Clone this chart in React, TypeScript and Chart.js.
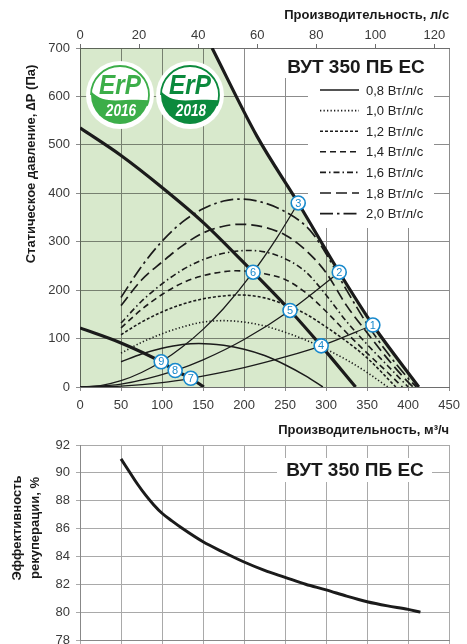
import React, { useEffect, useRef } from 'react';
import { Chart, registerables } from 'chart.js';

Chart.register(...registerables);

const FONT = "'Liberation Sans', Arial, Helvetica, sans-serif";

// ---------- tick labels ----------
const M3H_TICKS = [0, 50, 100, 150, 200, 250, 300, 350, 400, 450];
const LS_TICKS = [0, 20, 40, 60, 80, 100, 120];
const PA_TICKS = [0, 100, 200, 300, 400, 500, 600, 700];
const EFF_TICKS = [78, 80, 82, 84, 86, 88, 90, 92];

// ---------- texts ----------
const MODEL = 'ВУТ 350 ПБ ЕС';
const X_TITLE_BOTTOM = 'Производительность, м³/ч';
const X_TITLE_TOP = 'Производительность, л/с';
const Y_TITLE_TOP = 'Статическое давление, ∆P (Па)';
const Y_TITLE_BOTTOM = ['Эффективность', 'рекуперации, %'];
const SFP_LABELS = ['0,8 Вт/л/с', '1,0 Вт/л/с', '1,2 Вт/л/с', '1,4 Вт/л/с', '1,6 Вт/л/с', '1,8 Вт/л/с', '2,0 Вт/л/с'];
const LOGO_YEARS = ['2016', '2018'];

// ---------- fan curves (m³/h, Pa) ----------
const OUTER_X = [161, 216, 266, 316, 357, 413];
const OUTER_Y = [700, 517, 380, 237, 128, 0];
const MID_X = [0, 50, 100, 150, 211, 256, 294, 336];
const MID_Y = [535, 478, 412, 340, 237, 158, 85, 0];
const LOW_X = [0, 50, 99, 116, 135, 151];
const LOW_Y = [122, 91, 52, 34, 18, 0];

// ---------- system curves ----------
const SYS_A_X = [0, 25, 50, 75, 99, 125, 150, 175, 211, 240, 266];
const SYS_A_Y = [0, 3, 13, 30, 52, 83, 119, 162, 237, 308, 380];
const SYS_B_X = [0, 50, 116, 150, 200, 256, 316];
const SYS_B_Y = [0, 6, 34, 56, 98, 158, 237];
const SYS_C_X = [0, 50, 100, 135, 200, 250, 294, 357];
const SYS_C_Y = [0, 2, 9, 18, 40, 62, 85, 128];

// ---------- SFP iso-lines ----------
const SFP08_X = [50, 75, 100, 125, 145, 175, 200, 225, 250, 275, 296];
const SFP08_Y = [52, 68, 80, 88, 90, 86, 78, 65, 46, 23, 0];
const SFP10_X = [50, 75, 100, 125, 150, 175, 200, 225, 250, 275, 300, 325, 350, 375];
const SFP10_Y = [70, 92, 110, 124, 134, 137, 134, 126, 113, 97, 78, 56, 30, 0];
const SFP12_X = [50, 75, 100, 125, 150, 175, 195, 225, 250, 275, 300, 325, 350, 385];
const SFP12_Y = [108, 134, 155, 171, 182, 188, 190, 184, 170, 151, 124, 94, 60, 0];
const SFP14_X = [50, 75, 100, 125, 150, 175, 190, 211, 225, 250, 275, 300, 325, 350, 375, 393];
const SFP14_Y = [122, 160, 191, 215, 230, 238, 240, 238, 234, 222, 195, 156, 112, 70, 30, 0];
const SFP16_X = [50, 75, 100, 125, 150, 175, 205, 225, 250, 275, 300, 325, 350, 375, 400];
const SFP16_Y = [132, 177, 213, 242, 263, 276, 282, 279, 265, 238, 190, 135, 88, 44, 0];
const SFP18_X = [50, 75, 100, 125, 150, 175, 195, 225, 250, 265, 285, 300, 325, 350, 375, 400, 406];
const SFP18_Y = [168, 221, 258, 292, 318, 332, 336, 330, 314, 297, 266, 236, 168, 112, 58, 10, 0];
const SFP20_X = [50, 75, 100, 125, 150, 175, 195, 225, 250, 275, 285, 300, 325, 350, 375, 400, 410];
const SFP20_Y = [185, 249, 301, 341, 368, 384, 388, 380, 362, 333, 314, 275, 200, 130, 70, 18, 0];

// ---------- numbered operating points ----------
const MARK_LABELS = ['1', '2', '3', '4', '5', '6', '7', '8', '9'];
const MARK_X = [357, 316, 266, 294, 256, 211, 135, 116, 99];
const MARK_Y = [128, 237, 380, 85, 158, 237, 18, 34, 52];

// ---------- heat recovery efficiency ----------
const EFF_X = [50, 60, 70, 80, 90, 100, 112, 125, 150, 175, 200, 225, 250, 275, 300, 325, 350, 375, 400, 415];
const EFF_Y = [91, 90.1, 89.2, 88.4, 87.7, 87.1, 86.55, 86, 85.05, 84.3, 83.6, 83.0, 82.5, 82.0, 81.6, 81.15, 80.75, 80.45, 80.2, 80];

// ---------- styles ----------
const LINE = '#1b1b1b';
const GREEN = '#d8e9cc';
const BLUE = '#1889cc';
const GRID_TOP = '#8c8c8c';
const GRID_BOT = '#a9a9a9';
const TICK_COLOR = '#3a3a3a';
const SFP_DASHES = [[], [1.3, 2.2], [3, 2], [6, 4], [6, 3, 1.5, 3], [11, 5], [13, 4, 2.5, 4]];
const SFP_WIDTHS = [1.5, 1.6, 1.6, 1.6, 1.6, 1.7, 1.7];
const OUTER_INDEX = 1;

const pts = (xs: number[], ys: number[]) => xs.map((x, i) => ({ x, y: ys[i] }));
const ticksFrom = (vals: number[]) => (scale: any) => {
  scale.ticks = vals.map((v) => ({ value: v }));
};

function drawErP(ctx: CanvasRenderingContext2D, cx: number, cy: number, r: number, color: string, year: string) {
  ctx.save();
  ctx.beginPath();
  ctx.arc(cx, cy, r, 0, Math.PI * 2);
  ctx.fillStyle = '#ffffff';
  ctx.fill();
  const ri = r - 5;
  ctx.save();
  ctx.beginPath();
  ctx.arc(cx, cy, ri, 0, Math.PI * 2);
  ctx.clip();
  ctx.beginPath();
  ctx.moveTo(cx - ri - 2, cy - 6);
  ctx.bezierCurveTo(cx - ri * 0.55, cy + ri * 0.45, cx + ri * 0.1, cy + ri * 0.05, cx + ri + 4, cy + ri * 0.2);
  ctx.lineTo(cx + ri + 4, cy + ri + 4);
  ctx.lineTo(cx - ri - 4, cy + ri + 4);
  ctx.closePath();
  ctx.fillStyle = color;
  ctx.fill();
  ctx.restore();
  ctx.beginPath();
  ctx.arc(cx, cy, ri, Math.PI * 1.0, Math.PI * 2.12);
  ctx.strokeStyle = color;
  ctx.lineWidth = 1.8;
  ctx.stroke();
  ctx.fillStyle = color;
  ctx.textAlign = 'center';
  ctx.textBaseline = 'middle';
  ctx.font = `italic bold 27px ${FONT}`;
  ctx.save();
  ctx.translate(cx, cy - 9);
  ctx.scale(0.9, 1.05);
  ctx.fillText('ErP', 0, 0);
  ctx.restore();
  ctx.fillStyle = '#ffffff';
  ctx.font = `italic bold 16px ${FONT}`;
  ctx.save();
  ctx.translate(cx + 1, cy + 16);
  ctx.scale(0.85, 1.05);
  ctx.fillText(year, 0, 0);
  ctx.restore();
  ctx.restore();
}

const topDecor = {
  id: 'topDecor',
  beforeDatasetsDraw(chart: any) {
    const { ctx, chartArea: a, scales } = chart;
    const xs = scales.x;
    const ys = scales.y;
    ctx.save();
    ctx.beginPath();
    ctx.rect(a.left, a.top, a.right - a.left, a.bottom - a.top);
    ctx.clip();
    ctx.globalCompositeOperation = 'multiply';
    ctx.fillStyle = GREEN;
    const meta = chart.getDatasetMeta(OUTER_INDEX);
    ctx.beginPath();
    let ok = false;
    try {
      const line: any = meta.dataset;
      line.updateControlPoints(a, 'x');
      line.path(ctx);
      ok = true;
    } catch (e) {
      ok = false;
    }
    if (!ok) {
      ctx.beginPath();
      meta.data.forEach((p: any, i: number) => (i ? ctx.lineTo(p.x, p.y) : ctx.moveTo(p.x, p.y)));
    }
    ctx.lineTo(xs.getPixelForValue(0), ys.getPixelForValue(0));
    ctx.lineTo(xs.getPixelForValue(0), ys.getPixelForValue(700));
    ctx.closePath();
    ctx.fill();
    ctx.restore();

    ctx.save();
    ctx.fillStyle = '#ffffff';
    ctx.fillRect(282, 49, 160, 29);
    ctx.fillRect(308, 78, 126, 150);
    ctx.restore();

    drawErP(ctx, 120, 95, 34, '#3cae49', LOGO_YEARS[0]);
    drawErP(ctx, 190, 95, 34, '#0b8a3d', LOGO_YEARS[1]);
  },
  afterDatasetsDraw(chart: any) {
    const { ctx } = chart;
    const meta = chart.getDatasetMeta(0);
    ctx.save();
    ctx.fillStyle = BLUE;
    ctx.font = `11px ${FONT}`;
    ctx.textAlign = 'center';
    ctx.textBaseline = 'middle';
    meta.data.forEach((p: any, i: number) => ctx.fillText(MARK_LABELS[i], p.x, p.y + 0.5));
    ctx.restore();

    ctx.save();
    ctx.fillStyle = '#1a1a1a';
    ctx.font = `bold 19px ${FONT}`;
    ctx.textAlign = 'center';
    ctx.textBaseline = 'alphabetic';
    ctx.fillText(MODEL, 356, 73);
    ctx.restore();

    SFP_LABELS.forEach((lab, i) => {
      const yy = 90 + i * 20.6;
      ctx.save();
      ctx.strokeStyle = LINE;
      ctx.lineWidth = SFP_WIDTHS[i];
      ctx.setLineDash(SFP_DASHES[i]);
      ctx.beginPath();
      ctx.moveTo(320, yy);
      ctx.lineTo(359, yy);
      ctx.stroke();
      ctx.setLineDash([]);
      ctx.fillStyle = '#222';
      ctx.font = `13px ${FONT}`;
      ctx.textAlign = 'left';
      ctx.textBaseline = 'middle';
      ctx.fillText(lab, 366, yy + 1);
      ctx.restore();
    });

    ctx.save();
    ctx.translate(31, 164);
    ctx.rotate(-Math.PI / 2);
    ctx.fillStyle = '#1a1a1a';
    ctx.font = `bold 13px ${FONT}`;
    ctx.textAlign = 'center';
    ctx.textBaseline = 'middle';
    ctx.fillText(Y_TITLE_TOP, 0, 0);
    ctx.restore();
  },
};

const botDecor = {
  id: 'botDecor',
  beforeDatasetsDraw(chart: any) {
    const { ctx } = chart;
    ctx.save();
    ctx.fillStyle = '#ffffff';
    ctx.fillRect(277, 38, 155, 24);
    ctx.restore();
  },
  afterDatasetsDraw(chart: any) {
    const { ctx } = chart;
    ctx.save();
    ctx.fillStyle = '#1a1a1a';
    ctx.font = `bold 19px ${FONT}`;
    ctx.textAlign = 'center';
    ctx.textBaseline = 'alphabetic';
    ctx.fillText(MODEL, 355, 56);
    ctx.restore();

    ctx.save();
    ctx.fillStyle = '#1a1a1a';
    ctx.font = `bold 13px ${FONT}`;
    ctx.textAlign = 'center';
    ctx.textBaseline = 'middle';
    ctx.translate(17, 108);
    ctx.rotate(-Math.PI / 2);
    ctx.fillText(Y_TITLE_BOTTOM[0], 0, 0);
    ctx.fillText(Y_TITLE_BOTTOM[1], 0, 18);
    ctx.restore();
  },
};

const lineDs = (xs: number[], ys: number[], width: number, dash: number[] = []) => ({
  data: pts(xs, ys),
  borderColor: LINE,
  backgroundColor: LINE,
  borderWidth: width,
  borderDash: dash,
  pointRadius: 0,
  pointHoverRadius: 0,
  fill: false,
  cubicInterpolationMode: 'monotone' as const,
});

function topConfig(): any {
  const sfp = [
    [SFP08_X, SFP08_Y],
    [SFP10_X, SFP10_Y],
    [SFP12_X, SFP12_Y],
    [SFP14_X, SFP14_Y],
    [SFP16_X, SFP16_Y],
    [SFP18_X, SFP18_Y],
    [SFP20_X, SFP20_Y],
  ];
  const tickFont = { family: FONT, size: 13 };
  const titleFont = { family: FONT, size: 13, weight: 'bold' };
  return {
    type: 'line',
    data: {
      datasets: [
        {
          data: pts(MARK_X, MARK_Y),
          showLine: false,
          pointRadius: 7,
          pointHoverRadius: 7,
          pointBackgroundColor: '#ffffff',
          pointBorderColor: BLUE,
          pointBorderWidth: 1.6,
          borderColor: BLUE,
        },
        lineDs(OUTER_X, OUTER_Y, 3.2),
        lineDs(MID_X, MID_Y, 3.2),
        lineDs(LOW_X, LOW_Y, 3.2),
        lineDs(SYS_A_X, SYS_A_Y, 1.3),
        lineDs(SYS_B_X, SYS_B_Y, 1.3),
        lineDs(SYS_C_X, SYS_C_Y, 1.3),
        ...sfp.map((s, i) => lineDs(s[0], s[1], SFP_WIDTHS[i], SFP_DASHES[i])),
      ],
    },
    options: {
      responsive: false,
      animation: false,
      events: [],
      layout: { padding: { left: 0, right: 13, top: 0, bottom: 0 } },
      plugins: { legend: { display: false }, tooltip: { enabled: false } },
      scales: {
        x: {
          type: 'linear',
          position: 'bottom',
          min: 0,
          max: 450,
          afterBuildTicks: ticksFrom(M3H_TICKS),
          afterFit: (s: any) => {
            s.height = 53;
          },
          grid: { color: GRID_TOP, lineWidth: 1, tickLength: 4 },
          border: { color: '#6e6e6e' },
          ticks: { font: tickFont, color: TICK_COLOR, padding: 7, maxRotation: 0, autoSkip: false },
          title: {
            display: true,
            text: X_TITLE_BOTTOM,
            align: 'end',
            color: '#1a1a1a',
            font: titleFont,
            padding: { top: 0, bottom: 2 },
          },
        },
        x2: {
          type: 'linear',
          position: 'top',
          min: 0,
          max: 125,
          afterBuildTicks: ticksFrom(LS_TICKS),
          afterFit: (s: any) => {
            s.height = 48;
          },
          grid: { drawOnChartArea: false, color: '#6e6e6e', tickLength: 4 },
          border: { color: '#6e6e6e' },
          ticks: { font: tickFont, color: TICK_COLOR, padding: 1, maxRotation: 0, autoSkip: false },
          title: {
            display: true,
            text: X_TITLE_TOP,
            align: 'end',
            color: '#1a1a1a',
            font: titleFont,
            padding: { top: 8, bottom: 0 },
          },
        },
        y: {
          type: 'linear',
          min: 0,
          max: 700,
          afterBuildTicks: ticksFrom(PA_TICKS),
          afterFit: (s: any) => {
            s.width = 80;
          },
          grid: { color: GRID_TOP, lineWidth: 1, tickLength: 4 },
          border: { color: '#6e6e6e' },
          ticks: { font: tickFont, color: TICK_COLOR, padding: 6, autoSkip: false },
        },
      },
    },
    plugins: [topDecor],
  };
}

function bottomConfig(): any {
  const tickFont = { family: FONT, size: 13 };
  return {
    type: 'line',
    data: {
      datasets: [lineDs(EFF_X, EFF_Y, 3)],
    },
    options: {
      responsive: false,
      animation: false,
      events: [],
      layout: { padding: { left: 0, right: 13, top: 25, bottom: 0 } },
      plugins: { legend: { display: false }, tooltip: { enabled: false } },
      scales: {
        x: {
          type: 'linear',
          min: 0,
          max: 450,
          afterBuildTicks: ticksFrom(M3H_TICKS),
          afterFit: (s: any) => {
            s.height = 30;
          },
          grid: { color: GRID_BOT, lineWidth: 1, tickLength: 4 },
          border: { color: '#888' },
          ticks: { font: tickFont, color: TICK_COLOR, padding: 7, maxRotation: 0, autoSkip: false },
        },
        y: {
          type: 'linear',
          min: 78,
          max: 92,
          afterBuildTicks: ticksFrom(EFF_TICKS),
          afterFit: (s: any) => {
            s.width = 80;
          },
          grid: { color: GRID_BOT, lineWidth: 1, tickLength: 4 },
          border: { color: '#888' },
          ticks: { font: tickFont, color: TICK_COLOR, padding: 6, autoSkip: false },
        },
      },
    },
    plugins: [botDecor],
  };
}

export default function App() {
  const topRef = useRef<HTMLCanvasElement>(null);
  const botRef = useRef<HTMLCanvasElement>(null);
  useEffect(() => {
    const c1 = new Chart(topRef.current as HTMLCanvasElement, topConfig());
    const c2 = new Chart(botRef.current as HTMLCanvasElement, bottomConfig());
    return () => {
      c1.destroy();
      c2.destroy();
    };
  }, []);
  return (
    <div
      style={{
        position: 'absolute',
        left: 0,
        top: 0,
        width: 467,
        height: 644,
        overflow: 'hidden',
        background: '#ffffff',
      }}
    >
      <canvas
        ref={topRef}
        width={467}
        height={440}
        style={{ position: 'absolute', left: 0, top: 0, width: 467, height: 440 }}
      />
      <canvas
        ref={botRef}
        width={467}
        height={250}
        style={{ position: 'absolute', left: 0, top: 420, width: 467, height: 250 }}
      />
    </div>
  );
}
